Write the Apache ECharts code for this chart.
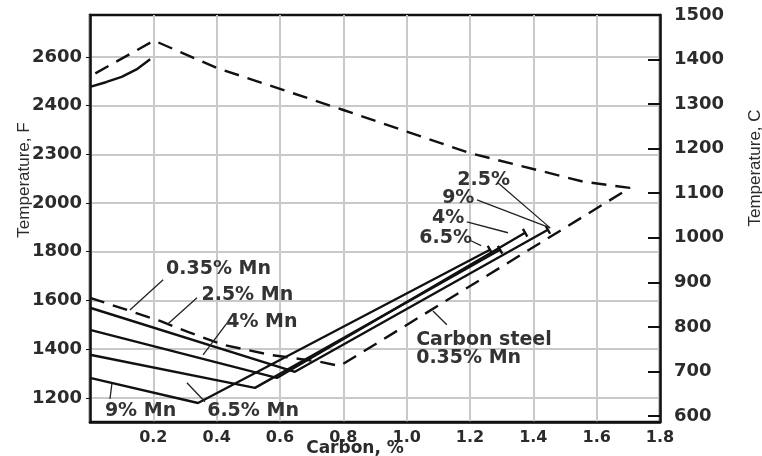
<!DOCTYPE html>
<html><head><meta charset="utf-8">
<script src="https://cdn.jsdelivr.net/npm/echarts@6/dist/echarts.min.js"></script>
<style>html,body{margin:0;padding:0;background:#fff}#c{width:762px;height:456px}</style>
</head><body><div id="c"></div>
<script>
// ---- axes ----
const carbonMin = 0, carbonMax = 1.8, carbonStep = 0.2;
const fMin = 1101, fMax = 2772;
const fTickValues = [1200, 1400, 1600, 1800, 2000, 2200, 2400, 2600];
const fTickLabels = ['1200', '1400', '1600', '1800', '2000', '2300', '2400', '2600'];
const cMin = 586.5, cMax = 1500;
const cTickValues = [600, 700, 800, 900, 1000, 1100, 1200, 1300, 1400, 1500];

// ---- curves: [carbon %, temperature F] ----
const solidusTop = [[0, 2477], [0.05, 2496], [0.1, 2518], [0.15, 2551], [0.19, 2590]];
const carbonSteel = [[0, 1611], [0.117, 1561], [0.221, 1516], [0.309, 1471], [0.42, 1418], [0.568, 1377],
  [0.726, 1348], [0.789, 1331], [1.705, 2062], [1.557, 2088], [1.2, 2205], [0.8, 2382], [0.4, 2555],
  [0.202, 2667], [0, 2520]];
const mn25 = [[0, 1570], [0.647, 1307], [1.446, 1890]];
const mn4 = [[0, 1479], [0.59, 1282], [1.374, 1878]];
const mn65 = [[0, 1377], [0.521, 1241], [1.295, 1808]];
const mn9 = [[0, 1282], [0.341, 1179], [1.263, 1808]];
// short end marks of the rising branches
const endMarks = [
  [[1.439, 1906], [1.453, 1874]],
  [[1.367, 1894], [1.381, 1862]],
  [[1.288, 1824], [1.302, 1792]],
  [[1.256, 1824], [1.270, 1792]]
];

// ---- annotations ----
const labelTexts = ['0.35% Mn', '2.5% Mn', '4% Mn', '9% Mn', '6.5% Mn', 'Carbon steel\n0.35% Mn', '2.5%', '9%', '4%', '6.5%'];
const labelX = [0.24, 0.352, 0.43, 0.047, 0.37, 1.03, 1.16, 1.112, 1.08, 1.04];
const labelY = [1730, 1623, 1512, 1147, 1147, 1401, 2095, 2021, 1939, 1857];
const pointers = [
  [[0.231, 1685], [0.126, 1561]],
  [[0.338, 1611], [0.243, 1500]],
  [[0.433, 1508], [0.357, 1377]],
  [[0.069, 1257], [0.063, 1196]],
  [[0.363, 1184], [0.306, 1262]],
  [[1.127, 1500], [1.083, 1557]],
  [[1.288, 2083], [1.453, 1898]],
  [[1.222, 2013], [1.453, 1898]],
  [[1.19, 1923], [1.32, 1878]],
  [[1.203, 1845], [1.235, 1825]]
];

const chart = echarts.init(document.getElementById('c'));
const tickFont = {fontFamily: 'DejaVu Sans', fontWeight: 'bold', color: '#2b2b2b'};
function curve(data, dashed, width) {
  return {type: 'line', data: data, symbol: 'none', silent: true, yAxisIndex: 0,
    lineStyle: {color: '#111', width: width || 2.4, type: dashed ? [15, 9] : 'solid'}};
}
const series = [
  curve(solidusTop, false),
  curve(carbonSteel, true),
  curve(mn25, false), curve(mn4, false), curve(mn65, false), curve(mn9, false)
];
endMarks.forEach(m => series.push(curve(m, false, 2.4)));
pointers.forEach(p => series.push({type: 'line', data: p, symbol: 'none', silent: true,
  lineStyle: {color: '#222', width: 1.3}}));
series.push({type: 'scatter', symbolSize: 0, silent: true, itemStyle: {opacity: 1},
  data: labelTexts.map((t, i) => ({name: t, value: [labelX[i], labelY[i]]})),
  label: {show: true, position: 'right', distance: 0, formatter: p => p.name,
    fontFamily: 'DejaVu Sans', fontWeight: 'bold', fontSize: 19, lineHeight: 18, color: '#333'}});

chart.setOption({
  animation: false,
  grid: {left: 90, right: 102, top: 15, bottom: 34, show: true, borderColor: '#111', borderWidth: 2.5},
  xAxis: {type: 'value', min: carbonMin, max: carbonMax, interval: carbonStep,
    axisLine: {lineStyle: {color: '#111', width: 2.5}}, axisTick: {show: false},
    splitLine: {show: true, lineStyle: {color: '#c9c9c9', width: 2}},
    axisLabel: Object.assign({fontSize: 16, margin: 8, formatter: v => v === 0 ? '' : v.toFixed(1)}, tickFont)},
  yAxis: [
    {type: 'value', position: 'left', min: fMin, max: fMax,
      axisLine: {show: true, lineStyle: {color: '#111', width: 2.5}},
      axisTick: {show: true, length: 4, customValues: fTickValues, lineStyle: {color: '#111'}},
      splitLine: {show: true, lineStyle: {color: '#c9c9c9', width: 2}},
      axisLabel: Object.assign({fontSize: 18, margin: 8, padding: [10, 0, 0, 0], customValues: fTickValues,
        formatter: v => fTickLabels[fTickValues.indexOf(v)]}, tickFont)},
    {type: 'value', position: 'right', min: cMin, max: cMax,
      axisLine: {show: true, lineStyle: {color: '#111', width: 2.5}},
      axisTick: {show: true, inside: true, length: 12, customValues: cTickValues, lineStyle: {color: '#111', width: 2}},
      splitLine: {show: false},
      axisLabel: Object.assign({fontSize: 18, margin: 14, customValues: cTickValues, formatter: v => String(v)}, tickFont)}
  ],
  graphic: [
    {type: 'text', x: 24, y: 180, rotation: Math.PI / 2, style: {text: 'Temperature, F', font: '17px "Liberation Sans"', fill: '#2b2b2b', textAlign: 'center', textVerticalAlign: 'middle'}},
    {type: 'text', x: 755, y: 168, rotation: Math.PI / 2, style: {text: 'Temperature, C', font: '17px "Liberation Sans"', fill: '#2b2b2b', textAlign: 'center', textVerticalAlign: 'middle'}},
    {type: 'text', x: 355, y: 449, style: {text: 'Carbon, %', font: 'bold 17px "DejaVu Sans"', fill: '#2b2b2b', textAlign: 'center', textVerticalAlign: 'middle'}}
  ],
  series: series
});
</script></body></html>
